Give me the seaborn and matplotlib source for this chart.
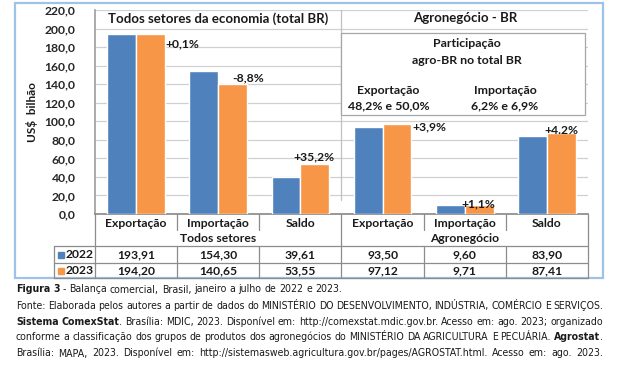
import numpy as np
import pandas as pd
import matplotlib
matplotlib.use("Agg")
import matplotlib.pyplot as plt
import seaborn as sns
from matplotlib import font_manager
from matplotlib.lines import Line2D
from matplotlib.patches import Rectangle
from matplotlib.transforms import blended_transform_factory

# Data
groups = ["Todos setores"] * 3 + ["Agronegócio"] * 3
items = ["Exportação", "Importação", "Saldo", "Exportação", "Importação", "Saldo"]
years = ["2022", "2023"]
v2022 = [193.91, 154.30, 39.61, 93.50, 9.60, 83.90]
v2023 = [194.20, 140.65, 53.55, 97.12, 9.71, 87.41]
changes = ["+0,1%", "-8,8%", "+35,2%", "+3,9%", "+1,1%", "+4.2%"]
yticks = np.arange(0, 221, 20)
panel_titles = ["Todos setores da economia (total BR)", "Agronegócio - BR"]

BLUE = "#4F81BD"
ORANGE = "#F79646"
W, H = 622, 374

sns.set_theme(style="white")
plt.rcParams["font.family"] = ["Lato", "DejaVu Sans"]
plt.rcParams["text.color"] = "#1a1a1a"

# a condensed face for the caption if one is installed
cap_props = dict(family=["Lato", "DejaVu Sans"])
cond = font_manager.findfont(font_manager.FontProperties(family="DejaVu Sans", stretch="condensed"))
if "Condensed" in cond:
    cap_props = dict(family=["DejaVu Sans"], stretch="condensed")

keys = [g + "|" + i for g, i in zip(groups, items)]
df = pd.DataFrame({
    "key": keys * 2,
    "year": [years[0]] * 6 + [years[1]] * 6,
    "value": v2022 + v2023,
})

fig = plt.figure(figsize=(W / 100, H / 100), dpi=100)
ax = fig.add_axes([95 / W, 1 - 214 / H, 493 / W, 204 / H])

sns.barplot(data=df, x="key", y="value", hue="year", palette=[BLUE, ORANGE],
            width=0.7, gap=0, saturation=1, legend=False, ax=ax, zorder=3)

ax.set_xlim(-0.5, 5.5)
ax.set_ylim(0, 220)
ax.set_yticks(yticks)
ax.set_yticklabels([f"{v:.1f}".replace(".", ",") for v in yticks],
                   fontsize=8.7, fontweight="bold")
ax.tick_params(axis="y", length=0, pad=14)
ax.set_xticks([])
ax.set_xlabel("")
ax.set_ylabel("")
ax.yaxis.grid(True, color="#D0D0D0", lw=0.9, zorder=0)
for s in ["top", "right"]:
    ax.spines[s].set_visible(False)
ax.spines["left"].set_color("#A0A0A0")
ax.spines["bottom"].set_color("#8C8C8C")
fig.text(32 / W, 1 - 112 / H, "US$  bilhão", rotation=90, ha="center",
         va="center", fontsize=8.5, fontweight="bold")

# panel titles and separator
ax.text(1, 211, panel_titles[0], ha="center", va="center", fontsize=9.5,
        fontweight="bold", zorder=5)
ax.text(4, 211, panel_titles[1], ha="center", va="center", fontsize=9.5,
        fontweight="bold", zorder=5)
ax.plot([2.5, 2.5], [15, 220], color="#C0C0C0", lw=0.9, zorder=2)

# info box
ax.add_patch(Rectangle((2.5, 106.8), 2.96, 88.4, facecolor="white",
                       edgecolor="#A6A6A6", lw=0.9, zorder=4))
box_kw = dict(ha="center", va="center", fontsize=8.9, fontweight="bold", zorder=5)
ax.text(4.03, 184.4, "Participação", **box_kw)
ax.text(4.03, 166.0, "agro-BR no total BR", **box_kw)
ax.text(3.07, 133.7, "Exportação", **box_kw)
ax.text(3.07, 116.5, "48,2% e 50,0%", **box_kw)
ax.text(4.49, 133.7, "Importação", **box_kw)
ax.text(4.49, 116.5, "6,2% e 6,9%", **box_kw)

# change labels
label_place = [(0.36, -11, "left"), (0.36, 6, "center"), (0.17, 8, "center"),
               (0.36, -3, "left"), (0.17, 1, "center"), (0.17, 3, "center")]
for i, (txt, (dx, dy, ha)) in enumerate(zip(changes, label_place)):
    ax.text(i + dx, v2023[i] + dy, txt, ha=ha, va="center", fontsize=8.7,
            fontweight="bold", zorder=6)

# data table under the axis
tr = blended_transform_factory(ax.transData, fig.transFigure)


def fy(py):
    return 1 - py / H


def hline(x0, x1, py, transform=tr):
    fig.add_artist(Line2D([x0, x1], [fy(py), fy(py)], transform=transform,
                          color="#8C8C8C", lw=0.9))


def vline(x, py0, py1, transform=tr):
    fig.add_artist(Line2D([x, x], [fy(py0), fy(py1)], transform=transform,
                          color="#8C8C8C", lw=0.9))


cell_kw = dict(ha="center", va="center", fontsize=8.7, fontweight="bold")
for i, it in enumerate(items):
    fig.text(i, fy(223), it, transform=tr, **cell_kw)
    fig.text(i, fy(254.5), f"{v2022[i]:.2f}".replace(".", ","), transform=tr, **cell_kw)
    fig.text(i, fy(270.5), f"{v2023[i]:.2f}".replace(".", ","), transform=tr, **cell_kw)
fig.text(1, fy(238), groups[0], transform=tr, **cell_kw)
fig.text(4, fy(238), groups[3], transform=tr, **cell_kw)

for b in np.arange(-0.5, 6, 1):
    if b in (-0.5, 2.5, 5.5):
        vline(b, 214, 278)
    else:
        vline(b, 214, 230)
        vline(b, 246, 278)
x_left = ax.transData.inverted().transform((54, 0))[0]
for py in (246, 262.5, 278):
    hline(x_left, 5.5, py)
fig.add_artist(Line2D([54 / W, 54 / W], [fy(246), fy(278)], transform=fig.transFigure,
                      color="#8C8C8C", lw=0.9))
for py, col, yr in [(254.5, BLUE, years[0]), (270.5, ORANGE, years[1])]:
    fig.add_artist(Line2D([61 / W], [fy(py)], transform=fig.transFigure,
                          marker="s", markersize=5, color=col, lw=0))
    fig.text(66 / W, fy(py), yr, ha="left", va="center", fontsize=8.7,
             fontweight="bold")

# outer frame
fig.add_artist(Rectangle((15 / W, fy(278)), 588 / W, 275 / H, transform=fig.transFigure,
                         facecolor="none", edgecolor="#9DC3E6", lw=1.6))

# caption, justified like the source document
caption = [
    ([("Figura 3", True), ("- Balança comercial, Brasil, janeiro a julho de 2022 e 2023.", False)], False),
    ([("Fonte: Elaborada pelos autores a partir de dados do MINISTÉRIO DO DESENVOLVIMENTO, INDÚSTRIA, COMÉRCIO E SERVIÇOS.", False)], True),
    ([("Sistema ComexStat", True), (". Brasília: MDIC, 2023. Disponível em: http://comexstat.mdic.gov.br. Acesso em: ago. 2023; organizado", False)], True),
    ([("conforme a classificação dos grupos de produtos dos agronegócios do MINISTÉRIO DA AGRICULTURA E PECUÁRIA.", False), ("Agrostat", True), (".", False)], True),
    ([("Brasília: MAPA, 2023. Disponível em: http://sistemasweb.agricultura.gov.br/pages/AGROSTAT.html. Acesso em: ago. 2023.", False)], True),
]
baselines = [292.5, 309, 325, 340.5, 356.5]
x0, x1 = 16, 603
renderer = fig.canvas.get_renderer()


def split_words(segs):
    words = []
    for text, bold in segs:
        for j, p in enumerate(text.split(" ")):
            if p == "":
                continue
            # punctuation glued to the previous word
            glue = bool(j == 0 and p[0] in ".,;" and words)
            words.append((p, bold, glue))
    return words


def place(words, py, size):
    artists = []
    for w, bold, glue in words:
        t = fig.text(0, fy(py), w, ha="left", va="baseline", fontsize=size,
                     fontweight="bold" if bold else "normal", **cap_props)
        artists.append((t, glue))
    widths = [t.get_window_extent(renderer).width for t, _ in artists]
    return artists, widths


# one common font size: the largest that lets every justified line fit
cap_size = 9.0
while cap_size > 6:
    ok = True
    for segs, justify in caption:
        if not justify:
            continue
        words = split_words(segs)
        arts, widths = place(words, 0, cap_size)
        n_gaps = sum(1 for _, g in arts[1:] if not g)
        for t, _ in arts:
            t.remove()
        if (x1 - x0 - sum(widths)) / n_gaps < 2.0:
            ok = False
            break
    if ok:
        break
    cap_size -= 0.1

ta = fig.text(0, 0, "a a", fontsize=cap_size, **cap_props)
tb = fig.text(0, 0, "aa", fontsize=cap_size, **cap_props)
nat_space = ta.get_window_extent(renderer).width - tb.get_window_extent(renderer).width
ta.remove()
tb.remove()

for (segs, justify), py in zip(caption, baselines):
    artists, widths = place(split_words(segs), py, cap_size)
    n_gaps = sum(1 for _, g in artists[1:] if not g)
    space = (x1 - x0 - sum(widths)) / n_gaps if justify else nat_space
    x = x0
    for k, ((t, glue), wdt) in enumerate(zip(artists, widths)):
        if k > 0 and not glue:
            x += space
        t.set_x(x / W)
        x += wdt

fig.savefig("out.png", dpi=100)
